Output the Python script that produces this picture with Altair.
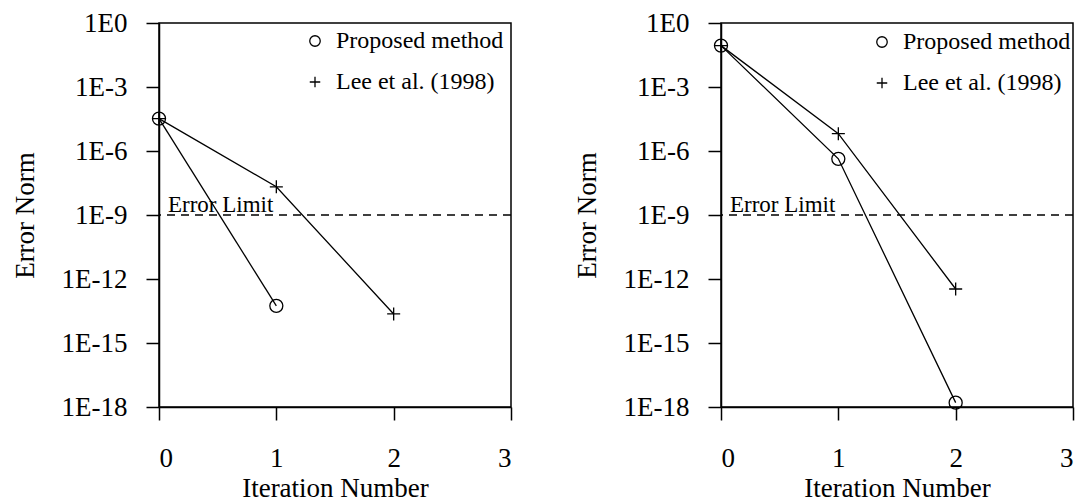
import altair as alt
import pandas as pd

# ---- data ----
methods = ["Proposed method", "Lee et al. (1998)"]

# left panel
iter_a_prop = [0, 1]
err_a_prop = [3.3e-5, 5.5e-14]
iter_a_lee = [0, 1, 2]
err_a_lee = [3.3e-5, 2.1e-8, 2.3e-14]

# right panel
iter_b_prop = [0, 1, 2]
err_b_prop = [8.7e-2, 4.3e-7, 1.6e-18]
iter_b_lee = [0, 1, 2]
err_b_lee = [8.7e-2, 6.5e-6, 3.4e-13]

y_ticks = [1, 1e-3, 1e-6, 1e-9, 1e-12, 1e-15, 1e-18]
x_ticks = [0, 1, 2, 3]
error_limit = 1e-9
limit_label = "Error Limit"

FONT = "Liberation Serif"


def frame(iters_p, errs_p, iters_l, errs_l):
    rows = []
    for i, e in zip(iters_p, errs_p):
        rows.append({"iter": i, "err": e, "method": methods[0]})
    for i, e in zip(iters_l, errs_l):
        rows.append({"iter": i, "err": e, "method": methods[1]})
    return pd.DataFrame(rows)


def panel(df, legend_x, legend_y):
    x_enc = alt.X(
        "iter:Q",
        scale=alt.Scale(domain=[0, 3], nice=False, zero=False),
        axis=alt.Axis(
            values=x_ticks, format="d", title="Iteration Number",
            tickSize=13, labelPadding=25, titlePadding=4,
        ),
    )
    y_enc = alt.Y(
        "err:Q",
        scale=alt.Scale(type="log", domain=[1e-18, 1], nice=False),
        axis=alt.Axis(
            values=y_ticks,
            labelExpr="'1E' + round(log(datum.value) / LN10)",
            title="Error Norm",
            tickSize=13, labelPadding=19, titlePadding=22,
        ),
    )
    lines = alt.Chart(df).mark_line(color="black", strokeWidth=1.3).encode(
        x=x_enc, y=y_enc, detail="method:N"
    )
    pts = alt.Chart(df).mark_point(
        filled=False, color="black", size=170, strokeWidth=1.3, opacity=1
    ).encode(
        x=x_enc,
        y=y_enc,
        shape=alt.Shape(
            "method:N",
            scale=alt.Scale(domain=methods, range=["circle", "M-1,0L1,0M0,-1L0,1"]),
            legend=alt.Legend(
                title=None, orient="none", legendX=legend_x, legendY=legend_y,
                labelFont=FONT, labelFontSize=24, labelColor="black", labelLimit=400,
                symbolSize=110, symbolStrokeColor="black", symbolStrokeWidth=1.3,
                symbolFillColor="transparent", rowPadding=17, labelOffset=9,
                padding=0,
            ),
        ),
    )
    rule = alt.Chart(pd.DataFrame({"err": [error_limit]})).mark_rule(
        color="black", strokeWidth=1.3, strokeDash=[8, 6]
    ).encode(y=y_enc)
    txt = alt.Chart(
        pd.DataFrame({"iter": [0], "err": [error_limit], "label": [limit_label]})
    ).mark_text(
        align="left", baseline="alphabetic", dx=9, dy=-3,
        font=FONT, fontSize=23, color="black",
    ).encode(x=x_enc, y=y_enc, text="label:N")
    return alt.layer(rule, txt, lines, pts).properties(width=352, height=384)


left = panel(frame(iter_a_prop, err_a_prop, iter_a_lee, err_a_lee), 144, 6)
right = panel(frame(iter_b_prop, err_b_prop, iter_b_lee, err_b_lee), 149, 7)

chart = (
    alt.hconcat(left, right, spacing=59)
    .resolve_legend(shape="independent")
    .properties(padding={"left": 2, "top": 0, "right": 0, "bottom": 0})
    .configure(background="white")
    .configure_view(stroke="black", strokeWidth=1.5)
    .configure_axis(
        grid=False,
        domainColor="black", domainWidth=1.5,
        tickColor="black", tickWidth=1.5,
        labelFont=FONT, labelFontSize=27, labelColor="black",
        titleFont=FONT, titleFontSize=27, titleColor="black",
        titleFontWeight="normal",
    )
)

chart.save("out.html", embed_options={"renderer": "svg", "actions": False})
